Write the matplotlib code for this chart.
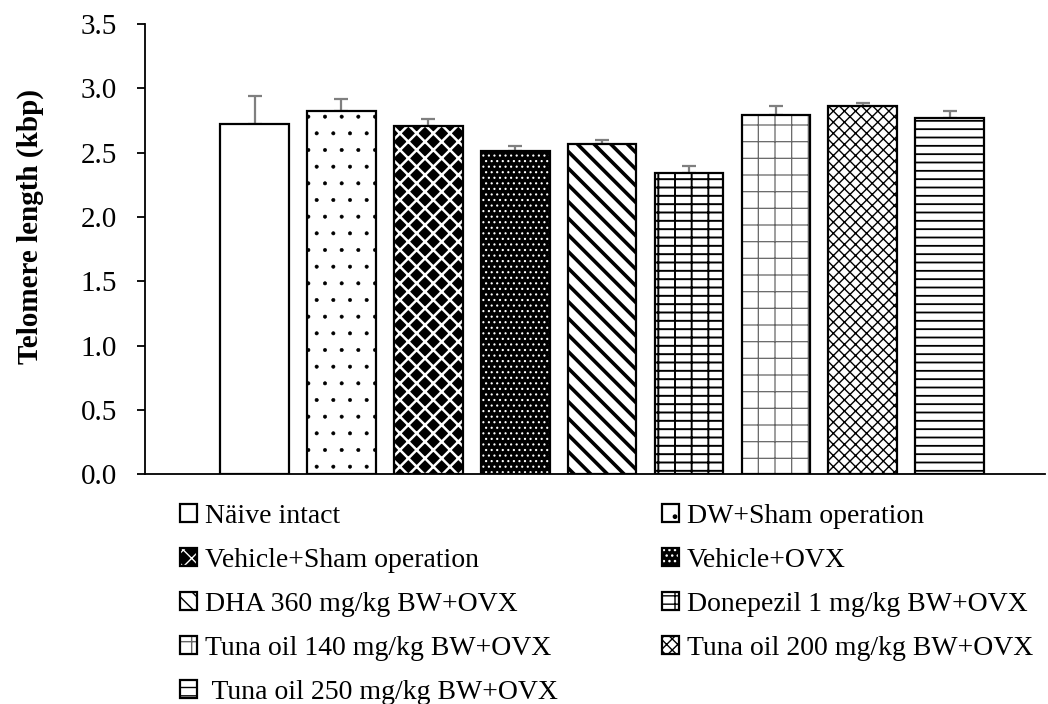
import matplotlib
matplotlib.use("Agg")
import matplotlib.pyplot as plt
import numpy as np

# data
groups = ["Näive intact", "DW+Sham operation", "Vehicle+Sham operation",
          "Vehicle+OVX", "DHA 360 mg/kg BW+OVX", "Donepezil 1 mg/kg BW+OVX",
          "Tuna oil 140 mg/kg BW+OVX", "Tuna oil 200 mg/kg BW+OVX",
          " Tuna oil 250 mg/kg BW+OVX"]
telomere = [2.72, 2.82, 2.71, 2.51, 2.57, 2.34, 2.79, 2.86, 2.77]
sem = [0.22, 0.10, 0.05, 0.04, 0.03, 0.055, 0.07, 0.025, 0.05]
yticks = [0.0, 0.5, 1.0, 1.5, 2.0, 2.5, 3.0, 3.5]

# pattern for each bar: face colour, hatch colour, hatch, hatch line width
faces = ["white", "white", "black", "black", "white", "white", "white", "white", "white"]
hcols = ["black", "black", "white", "white", "black", "black", "#666666", "black", "black"]
hatches = ["", ".", "xx", "...", "\\\\", "--|", "+", "xxx", "--"]
hlws = [1.0, 0.4, 1.8, 0.8, 2.6, 1.4, 0.9, 1.0, 1.3]

plt.rcParams["font.family"] = ["Liberation Serif", "DejaVu Serif"]

fig = plt.figure(figsize=(10.48, 7.04), dpi=100)
ax = fig.add_axes([0.1384, 0.3263, 0.859, 0.6396])

x = np.arange(len(groups))
handles = []
for i in range(len(groups)):
    with plt.rc_context({"hatch.linewidth": hlws[i]}):
        base = ax.bar(x[i], telomere[i], width=0.79, color=faces[i],
                      edgecolor=hcols[i], hatch=hatches[i], linewidth=0, zorder=2)[0]
        if hasattr(base, "set_hatch_linewidth"):
            base.set_hatch_linewidth(hlws[i])
    edge = ax.bar(x[i], telomere[i], width=0.79, fill=False, edgecolor="black",
                  linewidth=1.6, zorder=3)[0]
    handles.append((base, edge))

# upper error bars only, lower half hidden behind the bars
ax.errorbar(x, telomere, yerr=[np.zeros(len(sem)), sem], fmt="none",
            ecolor="#7f7f7f", elinewidth=1.6, capsize=5, capthick=1.6, zorder=1.5)

ax.set_xlim(-1.26, 9.1)
ax.set_ylim(0, 3.5)
ax.set_yticks(yticks)
ax.set_yticklabels([f"{t:.1f}" for t in yticks])
ax.set_xticks([])
ax.tick_params(axis="y", labelsize=21, length=6, width=1.3, direction="out", pad=14)
for s in ["top", "right"]:
    ax.spines[s].set_visible(False)
ax.spines["left"].set_linewidth(1.3)
ax.spines["bottom"].set_linewidth(1.3)
ax.set_ylabel("Telomere length (kbp)", fontsize=21, fontweight="bold")
ax.yaxis.set_label_coords(-0.112, 0.551)

# legend row-wise, two columns
order = [0, 2, 4, 6, 8, 1, 3, 5, 7]
fig.legend([handles[k] for k in order], [groups[k] for k in order],
           ncol=2, loc="upper left", bbox_to_anchor=(0.172, 0.284),
           frameon=False, fontsize=20, handlelength=0.6, handleheight=0.6,
           handletextpad=0.29, labelspacing=0.68, columnspacing=3.76,
           borderaxespad=0, borderpad=0)

fig.savefig("out.png", dpi=100)
